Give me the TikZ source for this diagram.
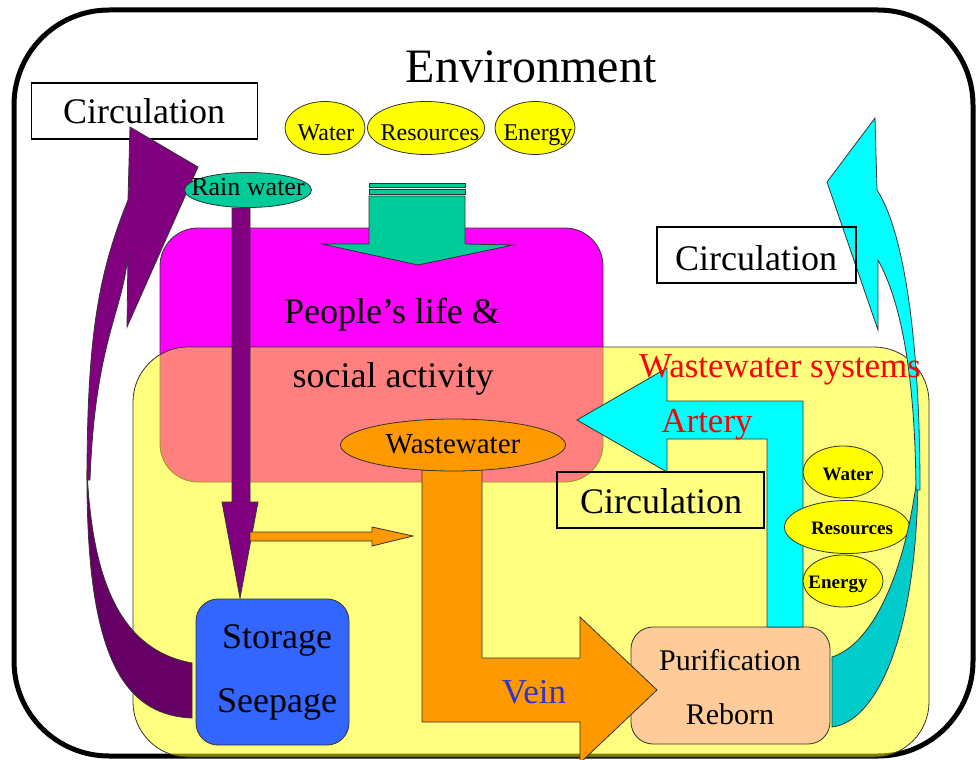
\documentclass[tikz,border=0pt]{standalone}
\usepackage{fontspec}
\setmainfont{Liberation Serif}
\usetikzlibrary{shapes.geometric}
\definecolor{magentaC}{HTML}{FF00FF}
\definecolor{purpleA}{HTML}{800080}
\definecolor{purpleB}{HTML}{660066}
\definecolor{cyanA}{HTML}{00FFFF}
\definecolor{cyanB}{HTML}{00CCCC}
\definecolor{tealA}{HTML}{00CC99}
\definecolor{orangeA}{HTML}{FF9900}
\definecolor{blueA}{HTML}{3366FF}
\definecolor{peachA}{HTML}{FFCC99}
\definecolor{yellowA}{HTML}{FFFF00}
\definecolor{veinC}{HTML}{3333CC}
\definecolor{edgeC}{HTML}{333333}
\tikzset{
  lbl/.style={inner sep=0pt, anchor=base, font=\fontsize{#1}{#1}\selectfont},
  blbl/.style={inner sep=0pt, anchor=base, font=\fontsize{#1}{#1}\selectfont\bfseries},
  shp/.style={draw=edgeC, line width=0.8pt},
  ell/.style={ellipse, shp, fill=yellowA, inner sep=0pt},
  circbox/.style={draw=black, line width=1.3pt, inner sep=0pt},
  rbox/.style={shp, inner sep=0pt, rounded corners=#1}
}
\begin{document}
\begin{tikzpicture}[x=1pt,y=-1pt]
\useasboundingbox (0,0) rectangle (978,760);
\fill[white] (0,0) rectangle (978,760);
% outer environment border
\draw[line width=5pt, rounded corners=95pt] (14,10) rectangle (973,756);
\node[lbl=48] (envT) at (531,82) {Environment};

% people's life box and wastewater systems box
\node[rbox=38pt, fill=magentaC, minimum width=443pt, minimum height=254pt] (life) at (381.5,355) {};
\node[rbox=55pt, fill=yellowA, fill opacity=0.5, minimum width=796pt, minimum height=410pt] (wws) at (531,552) {};
\node[lbl=36] (lifeT1) at (392,323) {People’s life \&};
\node[lbl=36] (lifeT2) at (393,387) {social activity};

% top resources
\node[ell, minimum width=80pt, minimum height=53pt] (w1) at (325,128) {};
\node[ell, minimum width=117pt, minimum height=53pt] (r1) at (426,128) {};
\node[ell, minimum width=80pt, minimum height=53pt] (e1) at (535,128) {};
\node[lbl=24] (w1T) at (326,140) {Water};
\node[lbl=24] (r1T) at (430,140) {Resources};
\node[lbl=24] (e1T) at (538,140) {Energy};

% left circulation box
\node[circbox, minimum width=226pt, minimum height=56pt] (circ1) at (144.5,111) {};
\node[lbl=36] (circ1T) at (144,124) {Circulation};

% left curved purple arrow
\draw[shp, fill=purpleB] (192,663) -- (192,718) .. controls (120,715) and (86,650) .. (87,470)
  .. controls (92,580) and (120,650) .. (192,663) -- cycle;
\draw[shp, fill=purpleA] (130,127) -- (198,167) -- (127,327) -- (128,253)
  .. controls (124,310) and (95,340) .. (90,480) -- (87,480)
  .. controls (87,330) and (100,270) .. (128,200) -- cycle;

% rain water
\node[ell, fill=tealA, minimum width=127pt, minimum height=35pt] (rain) at (248,190) {};
\node[lbl=26] (rainT) at (248,195) {Rain water};
\draw[shp, fill=purpleA] (232,208) -- (250,208) -- (250,502) -- (258,502) -- (240,598) -- (222,502) -- (232,502) -- cycle;
\draw[shp, fill=orangeA] (250,532) -- (372,532) -- (372,527) -- (413,536) -- (372,546) -- (372,541) -- (250,541) -- cycle;

% teal input arrow
\draw[shp, fill=tealA] (369,196) -- (465,196) -- (465,244) -- (513,245) -- (418,265) -- (322,244) -- (369,244) -- cycle;
\draw[shp, fill=tealA] (369,183) rectangle (465,187);
\draw[shp, fill=tealA] (369,189) rectangle (465,194);

% storage box
\node[rbox=22pt, fill=blueA, minimum width=153pt, minimum height=146pt] (store) at (272.5,672) {};
\node[lbl=36] (storeT1) at (277,648) {Storage};
\node[lbl=36] (storeT2) at (277,712) {Seepage};

% purification box
\node[rbox=22pt, fill=peachA, minimum width=199pt, minimum height=117pt] (puri) at (730.5,685.5) {};
\node[lbl=30] (puriT1) at (730,670) {Purification};
\node[lbl=30] (puriT2) at (730,724) {Reborn};

% vein
\draw[shp, fill=orangeA] (422,470) -- (482,470) -- (482,658) -- (580,658) -- (580,617) -- (657,690) -- (580,763) -- (580,722) -- (422,722) -- cycle;
\node[ell, fill=orangeA, minimum width=225pt, minimum height=52pt] (wwE) at (453,445) {};
\node[lbl=29] (wwT) at (453,453) {Wastewater};
\node[lbl=35, text=veinC] (veinT) at (534,703) {Vein};

% artery
\draw[shp, fill=cyanA] (767,627) -- (767,439) -- (667,439) -- (667,472) -- (577,420) -- (667,368) -- (667,401) -- (803,401) -- (803,627) -- cycle;
\node[lbl=35, text=red] (arteryT) at (707,432) {Artery};

% middle circulation box
\node[circbox, minimum width=207pt, minimum height=56pt] (circ2) at (660.5,500) {};
\node[lbl=36] (circ2T) at (661,513) {Circulation};

% right resources
\node[ell, minimum width=80pt, minimum height=52pt] (w2) at (843,472) {};
\node[ell, minimum width=125pt, minimum height=53pt] (r2) at (847,527) {};
\node[ell, minimum width=80pt, minimum height=52pt] (e2) at (843,581) {};
\node[blbl=19] (w2T) at (848,480) {Water};
\node[blbl=19] (r2T) at (852,534) {Resources};
\node[blbl=19] (e2T) at (838,588) {Energy};

% right curved cyan arrow
\draw[shp, fill=cyanB] (832,657) -- (832,727) .. controls (875,722) and (918,640) .. (918,470)
  .. controls (905,580) and (870,645) .. (832,657) -- cycle;
\draw[shp, fill=cyanA] (875,118) -- (827,182) -- (878,330) -- (878,260)
  .. controls (900,300) and (915,370) .. (916,490) -- (920,490)
  .. controls (920,330) and (902,228) .. (877,190) -- cycle;

% right circulation box
\node[circbox, minimum width=199pt, minimum height=56pt] (circ3) at (756.5,255) {};
\node[lbl=36] (circ3T) at (756,270) {Circulation};

\node[lbl=35, text=red] (wwsT) at (780,377) {Wastewater systems};
\end{tikzpicture}
\end{document}
